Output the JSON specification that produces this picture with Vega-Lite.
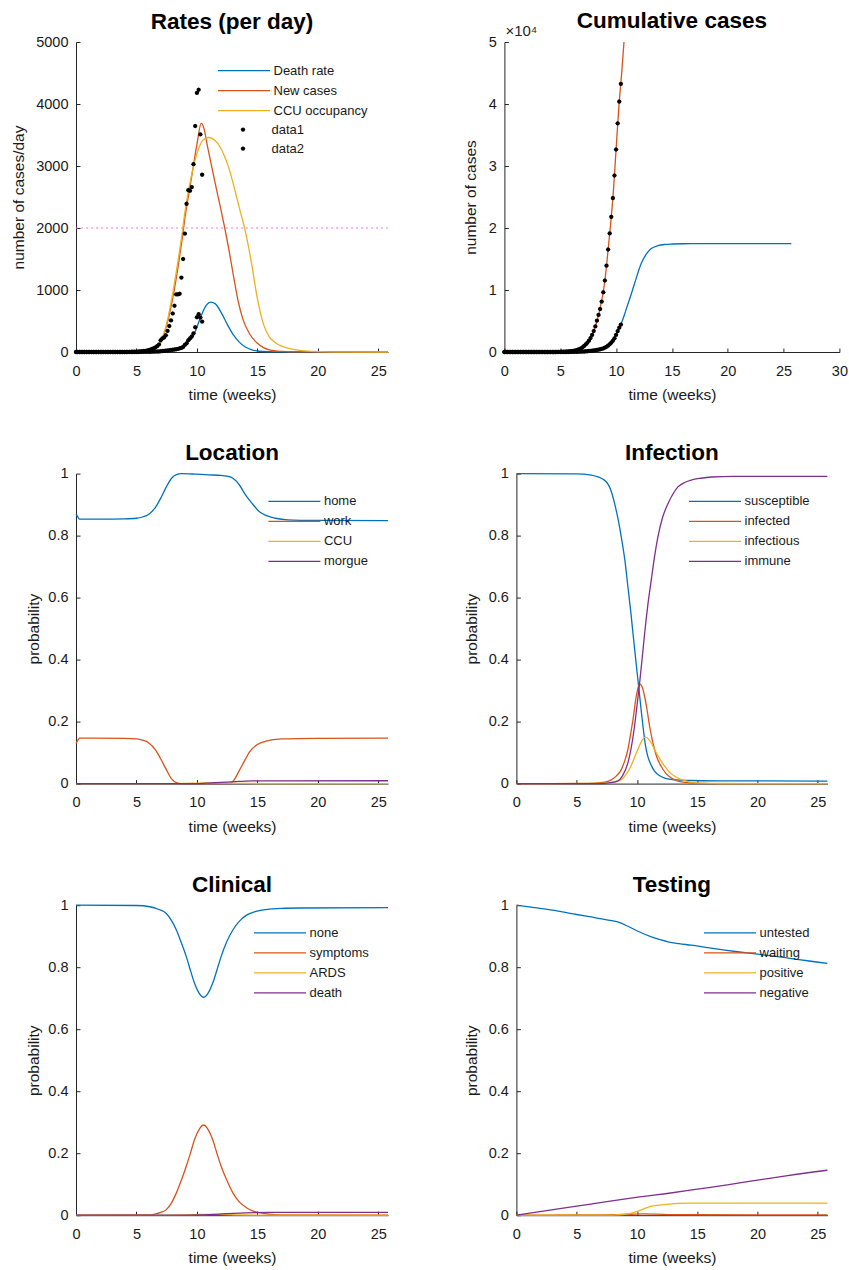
{
  "$schema": "https://vega.github.io/schema/vega-lite/v6.json",
  "padding": {"left": 11, "top": 9, "right": 5, "bottom": 5},
  "config": {
    "font": "Liberation Sans",
    "view": {"stroke": null},
    "line": {"interpolate": "monotone"},
    "axis": {"grid": false, "domainColor": "#262626", "domainWidth": 1, "tickColor": "#262626", "tickSize": -4, "tickWidth": 1,
      "labelFontSize": 14.5, "labelColor": "#1a1a1a", "titleFontSize": 15.5, "titleFontWeight": "normal", "titleColor": "#1a1a1a",
      "labelFlush": false, "labelOverlap": false},
    "axisX": {"labelPadding": 16, "titlePadding": 10},
    "axisY": {"labelPadding": 12, "titlePadding": 8},
    "title": {"fontSize": 22.5, "fontWeight": "bold", "color": "#000000", "frame": "group", "anchor": "middle", "offset": 0, "dy": 3},
    "legend": {"labelFontSize": 13, "labelColor": "#1a1a1a", "rowPadding": 2, "padding": 0}
  },
  "datasets": {
    "daily": [
      {"week":0,"data1":0,"data2":0,"cum1":0,"cum2":0},
      {"week":0.143,"data1":0,"data2":0,"cum1":0,"cum2":0},
      {"week":0.286,"data1":0,"data2":0,"cum1":0,"cum2":0},
      {"week":0.429,"data1":0,"data2":0,"cum1":0,"cum2":0},
      {"week":0.571,"data1":0,"data2":0,"cum1":0,"cum2":0},
      {"week":0.714,"data1":0,"data2":0,"cum1":0,"cum2":0},
      {"week":0.857,"data1":0,"data2":0,"cum1":0,"cum2":0},
      {"week":1,"data1":0,"data2":0,"cum1":0,"cum2":0},
      {"week":1.143,"data1":0,"data2":0,"cum1":0,"cum2":0},
      {"week":1.286,"data1":0,"data2":0,"cum1":0,"cum2":0},
      {"week":1.429,"data1":0,"data2":0,"cum1":0,"cum2":0},
      {"week":1.571,"data1":0,"data2":0,"cum1":0,"cum2":0},
      {"week":1.714,"data1":0,"data2":0,"cum1":0,"cum2":0},
      {"week":1.857,"data1":0,"data2":0,"cum1":0,"cum2":0},
      {"week":2,"data1":0,"data2":0,"cum1":0,"cum2":0},
      {"week":2.143,"data1":0,"data2":0,"cum1":0,"cum2":0},
      {"week":2.286,"data1":0,"data2":0,"cum1":0,"cum2":0},
      {"week":2.429,"data1":0,"data2":0,"cum1":0,"cum2":0},
      {"week":2.571,"data1":0,"data2":0,"cum1":0,"cum2":0},
      {"week":2.714,"data1":0,"data2":0,"cum1":0,"cum2":0},
      {"week":2.857,"data1":0,"data2":0,"cum1":0,"cum2":0},
      {"week":3,"data1":0,"data2":0,"cum1":0,"cum2":0},
      {"week":3.143,"data1":0,"data2":0,"cum1":0,"cum2":0},
      {"week":3.286,"data1":0,"data2":0,"cum1":0,"cum2":0},
      {"week":3.429,"data1":0,"data2":0,"cum1":0,"cum2":0},
      {"week":3.571,"data1":0,"data2":0,"cum1":0,"cum2":0},
      {"week":3.714,"data1":0,"data2":0,"cum1":0,"cum2":0},
      {"week":3.857,"data1":0,"data2":0,"cum1":0,"cum2":0},
      {"week":4,"data1":1,"data2":0,"cum1":1,"cum2":0},
      {"week":4.143,"data1":1,"data2":0,"cum1":2,"cum2":0},
      {"week":4.286,"data1":2,"data2":0,"cum1":4,"cum2":0},
      {"week":4.429,"data1":2,"data2":0,"cum1":6,"cum2":0},
      {"week":4.571,"data1":3,"data2":0,"cum1":9,"cum2":0},
      {"week":4.714,"data1":4,"data2":0,"cum1":13,"cum2":0},
      {"week":4.857,"data1":5,"data2":0,"cum1":18,"cum2":0},
      {"week":5,"data1":6,"data2":1,"cum1":24,"cum2":1},
      {"week":5.143,"data1":8,"data2":1,"cum1":32,"cum2":2},
      {"week":5.286,"data1":10,"data2":2,"cum1":42,"cum2":4},
      {"week":5.429,"data1":12,"data2":2,"cum1":54,"cum2":6},
      {"week":5.571,"data1":15,"data2":3,"cum1":69,"cum2":9},
      {"week":5.714,"data1":18,"data2":3,"cum1":87,"cum2":12},
      {"week":5.857,"data1":22,"data2":4,"cum1":109,"cum2":16},
      {"week":6,"data1":30,"data2":5,"cum1":139,"cum2":21},
      {"week":6.143,"data1":38,"data2":5,"cum1":177,"cum2":26},
      {"week":6.286,"data1":50,"data2":6,"cum1":227,"cum2":32},
      {"week":6.429,"data1":60,"data2":7,"cum1":287,"cum2":39},
      {"week":6.571,"data1":75,"data2":8,"cum1":362,"cum2":47},
      {"week":6.714,"data1":95,"data2":8,"cum1":457,"cum2":55},
      {"week":6.857,"data1":120,"data2":9,"cum1":577,"cum2":64},
      {"week":7,"data1":190,"data2":12,"cum1":767,"cum2":76},
      {"week":7.143,"data1":220,"data2":15,"cum1":987,"cum2":91},
      {"week":7.286,"data1":235,"data2":18,"cum1":1222,"cum2":109},
      {"week":7.429,"data1":270,"data2":22,"cum1":1492,"cum2":131},
      {"week":7.571,"data1":340,"data2":25,"cum1":1832,"cum2":156},
      {"week":7.714,"data1":420,"data2":28,"cum1":2252,"cum2":184},
      {"week":7.857,"data1":510,"data2":32,"cum1":2762,"cum2":216},
      {"week":8,"data1":620,"data2":36,"cum1":3382,"cum2":252},
      {"week":8.143,"data1":745,"data2":40,"cum1":4127,"cum2":292},
      {"week":8.286,"data1":930,"data2":45,"cum1":5057,"cum2":337},
      {"week":8.429,"data1":930,"data2":50,"cum1":5987,"cum2":387},
      {"week":8.571,"data1":940,"data2":58,"cum1":6927,"cum2":445},
      {"week":8.714,"data1":1200,"data2":66,"cum1":8127,"cum2":511},
      {"week":8.857,"data1":1500,"data2":80,"cum1":9627,"cum2":591},
      {"week":9,"data1":1910,"data2":115,"cum1":11537,"cum2":706},
      {"week":9.143,"data1":2390,"data2":140,"cum1":13927,"cum2":846},
      {"week":9.286,"data1":2610,"data2":190,"cum1":16537,"cum2":1036},
      {"week":9.429,"data1":2600,"data2":220,"cum1":19137,"cum2":1256},
      {"week":9.571,"data1":2660,"data2":250,"cum1":21797,"cum2":1506},
      {"week":9.714,"data1":3030,"data2":300,"cum1":24827,"cum2":1806},
      {"week":9.857,"data1":3645,"data2":400,"cum1":28472,"cum2":2206},
      {"week":10,"data1":4180,"data2":560,"cum1":32652,"cum2":2766},
      {"week":10.143,"data1":4230,"data2":610,"cum1":36882,"cum2":3376},
      {"week":10.286,"data1":3510,"data2":555,"cum1":40392,"cum2":3931},
      {"week":10.429,"data1":2860,"data2":490,"cum1":43252,"cum2":4421}
    ],
    "rates": [
      {"w":0,"s":"Death rate","v":0},{"w":5,"s":"Death rate","v":0},{"w":6,"s":"Death rate","v":1},{"w":6.5,"s":"Death rate","v":3},
      {"w":7,"s":"Death rate","v":8},{"w":7.5,"s":"Death rate","v":18},{"w":8,"s":"Death rate","v":38},{"w":8.5,"s":"Death rate","v":70},
      {"w":9,"s":"Death rate","v":120},{"w":9.5,"s":"Death rate","v":215},{"w":9.8,"s":"Death rate","v":300},{"w":10,"s":"Death rate","v":400},
      {"w":10.36,"s":"Death rate","v":590},{"w":10.78,"s":"Death rate","v":755},{"w":11.13,"s":"Death rate","v":806},{"w":11.5,"s":"Death rate","v":780},
      {"w":12,"s":"Death rate","v":640},{"w":12.5,"s":"Death rate","v":450},{"w":13,"s":"Death rate","v":280},{"w":13.5,"s":"Death rate","v":160},
      {"w":14,"s":"Death rate","v":80},{"w":14.5,"s":"Death rate","v":38},{"w":15,"s":"Death rate","v":16},{"w":16,"s":"Death rate","v":4},
      {"w":17,"s":"Death rate","v":1},{"w":25.8,"s":"Death rate","v":0},
      {"w":0,"s":"New cases","v":0},{"w":5,"s":"New cases","v":2},{"w":5.5,"s":"New cases","v":5},{"w":6,"s":"New cases","v":12},
      {"w":6.5,"s":"New cases","v":40},{"w":7,"s":"New cases","v":150},{"w":7.5,"s":"New cases","v":430},{"w":8,"s":"New cases","v":870},
      {"w":8.5,"s":"New cases","v":1450},{"w":8.76,"s":"New cases","v":1800},{"w":9,"s":"New cases","v":2150},{"w":9.5,"s":"New cases","v":2750},
      {"w":10,"s":"New cases","v":3350},{"w":10.36,"s":"New cases","v":3690},{"w":10.6,"s":"New cases","v":3590},{"w":10.86,"s":"New cases","v":3330},
      {"w":11.2,"s":"New cases","v":3010},{"w":11.6,"s":"New cases","v":2640},{"w":12,"s":"New cases","v":2280},{"w":12.3,"s":"New cases","v":2000},
      {"w":12.7,"s":"New cases","v":1590},{"w":13,"s":"New cases","v":1250},{"w":13.4,"s":"New cases","v":830},{"w":13.8,"s":"New cases","v":530},
      {"w":14.36,"s":"New cases","v":290},{"w":15,"s":"New cases","v":140},{"w":15.5,"s":"New cases","v":70},{"w":16,"s":"New cases","v":35},
      {"w":17,"s":"New cases","v":10},{"w":18,"s":"New cases","v":3},{"w":19,"s":"New cases","v":1},{"w":25.8,"s":"New cases","v":0},
      {"w":0,"s":"CCU occupancy","v":0},{"w":5,"s":"CCU occupancy","v":2},{"w":5.5,"s":"CCU occupancy","v":6},{"w":6,"s":"CCU occupancy","v":14},
      {"w":6.5,"s":"CCU occupancy","v":45},{"w":7,"s":"CCU occupancy","v":170},{"w":7.5,"s":"CCU occupancy","v":460},{"w":8,"s":"CCU occupancy","v":950},
      {"w":8.5,"s":"CCU occupancy","v":1550},{"w":8.8,"s":"CCU occupancy","v":1950},{"w":9,"s":"CCU occupancy","v":2250},{"w":9.5,"s":"CCU occupancy","v":2800},
      {"w":10,"s":"CCU occupancy","v":3200},{"w":10.5,"s":"CCU occupancy","v":3420},{"w":10.97,"s":"CCU occupancy","v":3460},{"w":11.5,"s":"CCU occupancy","v":3410},
      {"w":11.9,"s":"CCU occupancy","v":3310},{"w":12.3,"s":"CCU occupancy","v":3150},{"w":12.7,"s":"CCU occupancy","v":2930},{"w":13.1,"s":"CCU occupancy","v":2640},
      {"w":13.5,"s":"CCU occupancy","v":2330},{"w":14,"s":"CCU occupancy","v":1950},{"w":14.5,"s":"CCU occupancy","v":1450},{"w":15,"s":"CCU occupancy","v":860},
      {"w":15.5,"s":"CCU occupancy","v":450},{"w":16,"s":"CCU occupancy","v":240},{"w":16.5,"s":"CCU occupancy","v":150},{"w":17,"s":"CCU occupancy","v":95},
      {"w":17.7,"s":"CCU occupancy","v":54},{"w":18.5,"s":"CCU occupancy","v":25},{"w":19.5,"s":"CCU occupancy","v":10},{"w":21,"s":"CCU occupancy","v":3},
      {"w":25.8,"s":"CCU occupancy","v":0}
    ],
    "cum": [
      {"w":0,"s":"cases","v":0},{"w":4,"s":"cases","v":1},{"w":5,"s":"cases","v":24},{"w":5.5,"s":"cases","v":60},{"w":6,"s":"cases","v":139},
      {"w":6.5,"s":"cases","v":320},{"w":7,"s":"cases","v":767},{"w":7.5,"s":"cases","v":1650},{"w":8,"s":"cases","v":3382},{"w":8.5,"s":"cases","v":6450},
      {"w":9,"s":"cases","v":11537},{"w":9.25,"s":"cases","v":15800},{"w":9.5,"s":"cases","v":20400},{"w":9.75,"s":"cases","v":25700},{"w":10,"s":"cases","v":32652},
      {"w":10.25,"s":"cases","v":39500},{"w":10.5,"s":"cases","v":44950},{"w":10.71,"s":"cases","v":50000},
      {"w":0,"s":"deaths","v":0},{"w":5,"s":"deaths","v":1},{"w":6,"s":"deaths","v":21},{"w":7,"s":"deaths","v":76},{"w":7.5,"s":"deaths","v":131},
      {"w":8,"s":"deaths","v":252},{"w":8.5,"s":"deaths","v":420},{"w":9,"s":"deaths","v":706},{"w":9.5,"s":"deaths","v":1380},{"w":10,"s":"deaths","v":2766},
      {"w":10.43,"s":"deaths","v":4421},{"w":10.75,"s":"deaths","v":6000},{"w":11,"s":"deaths","v":7400},{"w":11.37,"s":"deaths","v":9400},
      {"w":11.75,"s":"deaths","v":11600},{"w":12.26,"s":"deaths","v":14300},{"w":12.75,"s":"deaths","v":15900},{"w":13.16,"s":"deaths","v":16700},
      {"w":13.75,"s":"deaths","v":17150},{"w":14.4,"s":"deaths","v":17350},{"w":15,"s":"deaths","v":17420},{"w":16,"s":"deaths","v":17460},
      {"w":18,"s":"deaths","v":17480},{"w":25.7,"s":"deaths","v":17480}
    ],
    "loc": [
      {"w":0,"s":"home","v":0.871},{"w":0.15,"s":"home","v":0.86},{"w":0.3,"s":"home","v":0.853},{"w":2,"s":"home","v":0.853},{"w":4,"s":"home","v":0.854},
      {"w":5,"s":"home","v":0.856},{"w":5.5,"s":"home","v":0.86},{"w":6,"s":"home","v":0.868},{"w":6.6,"s":"home","v":0.893},{"w":7,"s":"home","v":0.92},
      {"w":7.47,"s":"home","v":0.957},{"w":7.9,"s":"home","v":0.985},{"w":8.3,"s":"home","v":0.997},{"w":8.7,"s":"home","v":1},{"w":10,"s":"home","v":0.998},
      {"w":11,"s":"home","v":0.996},{"w":12,"s":"home","v":0.994},{"w":12.7,"s":"home","v":0.99},{"w":13,"s":"home","v":0.984},{"w":13.5,"s":"home","v":0.964},
      {"w":14,"s":"home","v":0.932},{"w":14.6,"s":"home","v":0.902},{"w":15.2,"s":"home","v":0.876},{"w":15.7,"s":"home","v":0.865},{"w":16.5,"s":"home","v":0.856},
      {"w":17.5,"s":"home","v":0.851},{"w":20,"s":"home","v":0.849},{"w":25.8,"s":"home","v":0.848},
      {"w":0,"s":"work","v":0.129},{"w":0.15,"s":"work","v":0.14},{"w":0.3,"s":"work","v":0.147},{"w":4,"s":"work","v":0.146},{"w":5,"s":"work","v":0.144},
      {"w":5.5,"s":"work","v":0.14},{"w":6,"s":"work","v":0.132},{"w":6.6,"s":"work","v":0.107},{"w":7,"s":"work","v":0.08},{"w":7.47,"s":"work","v":0.045},
      {"w":7.9,"s":"work","v":0.015},{"w":8.3,"s":"work","v":0.003},{"w":8.7,"s":"work","v":0},{"w":12.7,"s":"work","v":0},{"w":13,"s":"work","v":0.008},
      {"w":13.5,"s":"work","v":0.042},{"w":14,"s":"work","v":0.078},{"w":14.35,"s":"work","v":0.102},{"w":15,"s":"work","v":0.126},{"w":15.7,"s":"work","v":0.137},
      {"w":17,"s":"work","v":0.144},{"w":20,"s":"work","v":0.146},{"w":25.8,"s":"work","v":0.147},
      {"w":0,"s":"CCU","v":0},{"w":8,"s":"CCU","v":0},{"w":9,"s":"CCU","v":0.0005},{"w":10,"s":"CCU","v":0.0015},{"w":11,"s":"CCU","v":0.0025},
      {"w":12,"s":"CCU","v":0.002},{"w":13,"s":"CCU","v":0.0012},{"w":14,"s":"CCU","v":0.0005},{"w":16,"s":"CCU","v":0.0001},{"w":25.8,"s":"CCU","v":0},
      {"w":0,"s":"morgue","v":0},{"w":9.5,"s":"morgue","v":0},{"w":10.5,"s":"morgue","v":0.001},{"w":11.5,"s":"morgue","v":0.003},{"w":12.5,"s":"morgue","v":0.005},
      {"w":13.5,"s":"morgue","v":0.007},{"w":14.5,"s":"morgue","v":0.0085},{"w":16,"s":"morgue","v":0.009},{"w":25.8,"s":"morgue","v":0.0092}
    ],
    "inf": [
      {"w":0,"s":"susceptible","v":1},{"w":5,"s":"susceptible","v":0.999},{"w":6.2,"s":"susceptible","v":0.995},{"w":7.3,"s":"susceptible","v":0.979},
      {"w":7.8,"s":"susceptible","v":0.95},{"w":8.15,"s":"susceptible","v":0.903},{"w":8.45,"s":"susceptible","v":0.85},{"w":8.7,"s":"susceptible","v":0.796},
      {"w":9,"s":"susceptible","v":0.72},{"w":9.25,"s":"susceptible","v":0.635},{"w":9.5,"s":"susceptible","v":0.55},{"w":9.67,"s":"susceptible","v":0.485},
      {"w":9.9,"s":"susceptible","v":0.4},{"w":10.08,"s":"susceptible","v":0.335},{"w":10.3,"s":"susceptible","v":0.255},{"w":10.5,"s":"susceptible","v":0.185},
      {"w":10.7,"s":"susceptible","v":0.125},{"w":10.9,"s":"susceptible","v":0.088},{"w":11.2,"s":"susceptible","v":0.058},{"w":11.46,"s":"susceptible","v":0.04},
      {"w":12.3,"s":"susceptible","v":0.018},{"w":13.3,"s":"susceptible","v":0.012},{"w":14.5,"s":"susceptible","v":0.01},{"w":17,"s":"susceptible","v":0.009},
      {"w":25.8,"s":"susceptible","v":0.008},
      {"w":0,"s":"infected","v":0},{"w":6,"s":"infected","v":0.0005},{"w":7,"s":"infected","v":0.003},{"w":7.5,"s":"infected","v":0.006},
      {"w":7.87,"s":"infected","v":0.012},{"w":8.3,"s":"infected","v":0.025},{"w":8.7,"s":"infected","v":0.045},{"w":9,"s":"infected","v":0.075},
      {"w":9.25,"s":"infected","v":0.11},{"w":9.5,"s":"infected","v":0.165},{"w":9.67,"s":"infected","v":0.206},{"w":9.94,"s":"infected","v":0.281},
      {"w":10.1,"s":"infected","v":0.31},{"w":10.22,"s":"infected","v":0.322},{"w":10.4,"s":"infected","v":0.315},{"w":10.64,"s":"infected","v":0.281},
      {"w":10.85,"s":"infected","v":0.235},{"w":11.05,"s":"infected","v":0.185},{"w":11.25,"s":"infected","v":0.145},{"w":11.46,"s":"infected","v":0.11},
      {"w":11.7,"s":"infected","v":0.08},{"w":12,"s":"infected","v":0.056},{"w":12.4,"s":"infected","v":0.033},{"w":12.85,"s":"infected","v":0.018},
      {"w":13.4,"s":"infected","v":0.008},{"w":13.95,"s":"infected","v":0.004},{"w":15,"s":"infected","v":0.001},{"w":17,"s":"infected","v":0},
      {"w":25.8,"s":"infected","v":0},
      {"w":0,"s":"infectious","v":0},{"w":7,"s":"infectious","v":0.001},{"w":8,"s":"infectious","v":0.005},{"w":8.7,"s":"infectious","v":0.013},
      {"w":9.1,"s":"infectious","v":0.03},{"w":9.5,"s":"infectious","v":0.056},{"w":9.8,"s":"infectious","v":0.085},{"w":10.08,"s":"infectious","v":0.11},
      {"w":10.4,"s":"infectious","v":0.138},{"w":10.72,"s":"infectious","v":0.15},{"w":11,"s":"infectious","v":0.142},{"w":11.25,"s":"infectious","v":0.127},
      {"w":11.46,"s":"infectious","v":0.11},{"w":11.9,"s":"infectious","v":0.08},{"w":12.3,"s":"infectious","v":0.056},{"w":12.8,"s":"infectious","v":0.033},
      {"w":13.4,"s":"infectious","v":0.018},{"w":14,"s":"infectious","v":0.009},{"w":14.5,"s":"infectious","v":0.004},{"w":15.5,"s":"infectious","v":0.0015},
      {"w":17,"s":"infectious","v":0.0003},{"w":25.8,"s":"infectious","v":0},
      {"w":0,"s":"immune","v":0},{"w":7,"s":"immune","v":0},{"w":7.8,"s":"immune","v":0.003},{"w":8.4,"s":"immune","v":0.008},{"w":8.8,"s":"immune","v":0.025},
      {"w":9.25,"s":"immune","v":0.067},{"w":9.5,"s":"immune","v":0.11},{"w":9.8,"s":"immune","v":0.185},{"w":10,"s":"immune","v":0.25},
      {"w":10.22,"s":"immune","v":0.324},{"w":10.45,"s":"immune","v":0.41},{"w":10.64,"s":"immune","v":0.485},{"w":10.9,"s":"immune","v":0.575},
      {"w":11.19,"s":"immune","v":0.657},{"w":11.45,"s":"immune","v":0.73},{"w":11.74,"s":"immune","v":0.796},{"w":12.1,"s":"immune","v":0.855},
      {"w":12.57,"s":"immune","v":0.903},{"w":13,"s":"immune","v":0.935},{"w":13.4,"s":"immune","v":0.957},{"w":14,"s":"immune","v":0.972},
      {"w":14.5,"s":"immune","v":0.979},{"w":15.3,"s":"immune","v":0.985},{"w":16.2,"s":"immune","v":0.989},{"w":18,"s":"immune","v":0.991},
      {"w":25.8,"s":"immune","v":0.991}
    ],
    "cli": [
      {"w":0,"s":"none","v":1},{"w":5,"s":"none","v":0.999},{"w":6.1,"s":"none","v":0.995},{"w":6.8,"s":"none","v":0.987},{"w":7.47,"s":"none","v":0.973},
      {"w":7.9,"s":"none","v":0.95},{"w":8.3,"s":"none","v":0.92},{"w":8.7,"s":"none","v":0.88},{"w":9.12,"s":"none","v":0.834},{"w":9.5,"s":"none","v":0.785},
      {"w":9.8,"s":"none","v":0.748},{"w":10.2,"s":"none","v":0.715},{"w":10.55,"s":"none","v":0.703},{"w":10.9,"s":"none","v":0.715},{"w":11.3,"s":"none","v":0.748},
      {"w":11.65,"s":"none","v":0.79},{"w":12,"s":"none","v":0.834},{"w":12.5,"s":"none","v":0.885},{"w":12.97,"s":"none","v":0.92},{"w":13.5,"s":"none","v":0.948},
      {"w":14.1,"s":"none","v":0.968},{"w":14.8,"s":"none","v":0.979},{"w":15.7,"s":"none","v":0.986},{"w":17,"s":"none","v":0.99},{"w":18.5,"s":"none","v":0.991},
      {"w":25.8,"s":"none","v":0.992},
      {"w":0,"s":"symptoms","v":0},{"w":6,"s":"symptoms","v":0.001},{"w":6.6,"s":"symptoms","v":0.004},{"w":7,"s":"symptoms","v":0.009},{"w":7.47,"s":"symptoms","v":0.018},
      {"w":7.9,"s":"symptoms","v":0.04},{"w":8.3,"s":"symptoms","v":0.072},{"w":8.7,"s":"symptoms","v":0.112},{"w":9.12,"s":"symptoms","v":0.158},{"w":9.5,"s":"symptoms","v":0.205},
      {"w":9.8,"s":"symptoms","v":0.244},{"w":10.2,"s":"symptoms","v":0.278},{"w":10.55,"s":"symptoms","v":0.291},{"w":10.9,"s":"symptoms","v":0.278},{"w":11.3,"s":"symptoms","v":0.244},
      {"w":11.65,"s":"symptoms","v":0.2},{"w":12,"s":"symptoms","v":0.158},{"w":12.5,"s":"symptoms","v":0.11},{"w":12.97,"s":"symptoms","v":0.072},{"w":13.5,"s":"symptoms","v":0.043},
      {"w":14.1,"s":"symptoms","v":0.024},{"w":14.6,"s":"symptoms","v":0.014},{"w":15.2,"s":"symptoms","v":0.008},{"w":16,"s":"symptoms","v":0.003},{"w":17,"s":"symptoms","v":0.001},
      {"w":25.8,"s":"symptoms","v":0},
      {"w":0,"s":"ARDS","v":0},{"w":8,"s":"ARDS","v":0.0003},{"w":9,"s":"ARDS","v":0.001},{"w":10,"s":"ARDS","v":0.002},{"w":11,"s":"ARDS","v":0.0028},
      {"w":12,"s":"ARDS","v":0.0025},{"w":13,"s":"ARDS","v":0.0015},{"w":14,"s":"ARDS","v":0.0007},{"w":16,"s":"ARDS","v":0.0002},{"w":25.8,"s":"ARDS","v":0},
      {"w":0,"s":"death","v":0},{"w":9,"s":"death","v":0},{"w":10,"s":"death","v":0.0006},{"w":11,"s":"death","v":0.002},{"w":12,"s":"death","v":0.004},
      {"w":13,"s":"death","v":0.0062},{"w":14,"s":"death","v":0.0078},{"w":15,"s":"death","v":0.0086},{"w":16.5,"s":"death","v":0.009},{"w":25.8,"s":"death","v":0.0092}
    ],
    "tst": [
      {"w":0,"s":"untested","v":1},{"w":1.5,"s":"untested","v":0.992},{"w":3.45,"s":"untested","v":0.981},{"w":5,"s":"untested","v":0.97},{"w":6.2,"s":"untested","v":0.962},
      {"w":7.5,"s":"untested","v":0.953},{"w":8.4,"s":"untested","v":0.946},{"w":9.25,"s":"untested","v":0.932},{"w":10.08,"s":"untested","v":0.916},{"w":11.2,"s":"untested","v":0.898},
      {"w":12,"s":"untested","v":0.888},{"w":12.57,"s":"untested","v":0.882},{"w":13.5,"s":"untested","v":0.876},{"w":14.5,"s":"untested","v":0.871},{"w":16,"s":"untested","v":0.862},
      {"w":17.3,"s":"untested","v":0.855},{"w":18.5,"s":"untested","v":0.849},{"w":20,"s":"untested","v":0.842},{"w":21.5,"s":"untested","v":0.835},{"w":22.8,"s":"untested","v":0.828},
      {"w":24.3,"s":"untested","v":0.82},{"w":25.8,"s":"untested","v":0.812},
      {"w":0,"s":"waiting","v":0},{"w":5,"s":"waiting","v":0.001},{"w":8,"s":"waiting","v":0.0015},{"w":9.5,"s":"waiting","v":0.003},{"w":10.5,"s":"waiting","v":0.004},
      {"w":11.5,"s":"waiting","v":0.0035},{"w":13,"s":"waiting","v":0.002},{"w":15,"s":"waiting","v":0.0015},{"w":25.8,"s":"waiting","v":0.0013},
      {"w":0,"s":"positive","v":0},{"w":8,"s":"positive","v":0.0005},{"w":9,"s":"positive","v":0.003},{"w":9.5,"s":"positive","v":0.006},{"w":10.08,"s":"positive","v":0.013},
      {"w":10.6,"s":"positive","v":0.021},{"w":11.2,"s":"positive","v":0.029},{"w":11.7,"s":"positive","v":0.032},{"w":12.3,"s":"positive","v":0.034},{"w":13.4,"s":"positive","v":0.038},
      {"w":14.5,"s":"positive","v":0.039},{"w":17,"s":"positive","v":0.039},{"w":25.8,"s":"positive","v":0.039},
      {"w":0,"s":"negative","v":0},{"w":2.5,"s":"negative","v":0.0145},{"w":5,"s":"negative","v":0.029},{"w":7.5,"s":"negative","v":0.044},{"w":10.08,"s":"negative","v":0.058},
      {"w":12.5,"s":"negative","v":0.07},{"w":15,"s":"negative","v":0.084},{"w":17.5,"s":"negative","v":0.098},{"w":20,"s":"negative","v":0.113},{"w":22.5,"s":"negative","v":0.128},
      {"w":25.8,"s":"negative","v":0.145}
    ]
  },
  "concat": [
    {
      "width": 312, "height": 310,
      "title": "Rates (per day)",
      "layer": [
        {
          "data": {"values": [{}]},
          "mark": {"type": "rule", "color": "#f07af0", "strokeDash": [2, 3], "strokeWidth": 1.2},
          "encoding": {"y": {"datum": 2000, "type": "quantitative"}}
        },
        {
          "data": {"name": "rates"},
          "mark": {"type": "line", "strokeWidth": 1.3},
          "encoding": {
            "x": {"field": "w", "type": "quantitative", "scale": {"domain": [0, 25.8], "nice": false, "zero": false}, "axis": {"title": "time (weeks)", "values": [0, 5, 10, 15, 20, 25]}},
            "y": {"field": "v", "type": "quantitative", "scale": {"domain": [0, 5000], "nice": false}, "axis": {"title": "number of cases/day", "values": [0, 1000, 2000, 3000, 4000, 5000], "format": "d", "titlePadding": 9}},
            "color": {"field": "s", "type": "nominal",
              "scale": {"domain": ["Death rate", "New cases", "CCU occupancy"], "range": ["#0072BD", "#D95319", "#EDB120"]},
              "legend": {"title": null, "orient": "none", "legendX": 157, "legendY": 17.6, "symbolType": "M-2.6,0H2.6", "symbolSize": 400, "symbolStrokeWidth": 1.3, "labelOffset": 18.5}
            }
          }
        },
        {
          "data": {"name": "daily"},
          "transform": [{"fold": ["data1", "data2"], "as": ["s", "v"]}],
          "mark": {"type": "point", "filled": true, "size": 400, "opacity": 1, "color": "#000000"},
          "encoding": {
            "x": {"field": "week", "type": "quantitative"},
            "y": {"field": "v", "type": "quantitative"},
            "shape": {"field": "s", "type": "nominal",
              "scale": {"domain": ["data1", "data2"], "range": ["M-0.22,0L-0.156,-0.156L0,-0.22L0.156,-0.156L0.22,0L0.156,0.156L0,0.22L-0.156,0.156Z", "M-0.22,0L-0.156,-0.156L0,-0.22L0.156,-0.156L0.22,0L0.156,0.156L0,0.22L-0.156,0.156Z"]},
              "legend": {"title": null, "orient": "none", "legendX": 157, "legendY": 77.6, "symbolSize": 400, "symbolFillColor": "#000000", "symbolStrokeColor": "#000000", "symbolStrokeWidth": 0, "labelOffset": 18.5}
            }
          }
        }
      ]
    },
    {
      "width": 323, "height": 310,
      "title": {"text": "Cumulative cases", "dx": -6, "dy": 12},
      "layer": [
        {
          "data": {"name": "cum"},
          "mark": {"type": "line", "strokeWidth": 1.3},
          "encoding": {
            "x": {"field": "w", "type": "quantitative", "scale": {"domain": [0, 30], "nice": false, "zero": false, "range": [-12, 323]}, "axis": {"title": "time (weeks)", "values": [0, 5, 10, 15, 20, 25, 30]}},
            "y": {"field": "v", "type": "quantitative", "scale": {"domain": [0, 50000], "nice": false}, "axis": {"title": "number of cases", "values": [0, 10000, 20000, 30000, 40000, 50000], "labelExpr": "datum.value / 10000", "titlePadding": 10, "offset": 12}},
            "color": {"field": "s", "type": "nominal", "scale": {"domain": ["deaths", "cases"], "range": ["#0072BD", "#D95319"]}, "legend": null}
          }
        },
        {
          "data": {"name": "daily"},
          "transform": [{"fold": ["cum1", "cum2"], "as": ["s", "v"]}],
          "mark": {"type": "point", "filled": true, "size": 400, "opacity": 1, "color": "#000000", "shape": "M-0.22,0L-0.156,-0.156L0,-0.22L0.156,-0.156L0.22,0L0.156,0.156L0,0.22L-0.156,0.156Z"},
          "encoding": {
            "x": {"field": "week", "type": "quantitative"},
            "y": {"field": "v", "type": "quantitative"},
            "detail": {"field": "s", "type": "nominal"}
          }
        },
        {
          "data": {"values": [{}]},
          "mark": {"type": "text", "text": "×10⁴", "align": "left", "baseline": "alphabetic", "dx": 1, "dy": -6, "fontSize": 15, "color": "#262626"},
          "encoding": {"x": {"datum": 0, "type": "quantitative"}, "y": {"datum": 50000, "type": "quantitative"}}
        }
      ]
    },
    {
      "width": 312, "height": 310,
      "title": "Location",
      "data": {"name": "loc"},
      "mark": {"type": "line", "strokeWidth": 1.3},
      "encoding": {
        "x": {"field": "w", "type": "quantitative", "scale": {"domain": [0, 25.8], "nice": false, "zero": false}, "axis": {"title": "time (weeks)", "values": [0, 5, 10, 15, 20, 25]}},
        "y": {"field": "v", "type": "quantitative", "scale": {"domain": [0, 1], "nice": false}, "axis": {"title": "probability", "values": [0, 0.2, 0.4, 0.6, 0.8, 1], "format": "~g", "titlePadding": 6.5}},
        "color": {"field": "s", "type": "nominal", "scale": {"domain": ["home", "work", "CCU", "morgue"], "range": ["#0072BD", "#D95319", "#EDB120", "#7E2F8E"]},
          "legend": {"title": null, "orient": "none", "legendX": 207.4, "legendY": 16.7, "symbolType": "M-2.6,0H2.6", "symbolSize": 400, "symbolStrokeWidth": 1.3, "labelOffset": 18.5}}
      }
    },
    {
      "width": 311, "height": 310,
      "title": "Infection",
      "data": {"name": "inf"},
      "mark": {"type": "line", "strokeWidth": 1.3},
      "encoding": {
        "x": {"field": "w", "type": "quantitative", "scale": {"domain": [0, 25.8], "nice": false, "zero": false}, "axis": {"title": "time (weeks)", "values": [0, 5, 10, 15, 20, 25]}},
        "y": {"field": "v", "type": "quantitative", "scale": {"domain": [0, 1], "nice": false}, "axis": {"title": "probability", "values": [0, 0.2, 0.4, 0.6, 0.8, 1], "format": "~g", "titlePadding": 8.3}},
        "color": {"field": "s", "type": "nominal", "scale": {"domain": ["susceptible", "infected", "infectious", "immune"], "range": ["#0072BD", "#D95319", "#EDB120", "#7E2F8E"]},
          "legend": {"title": null, "orient": "none", "legendX": 187.6, "legendY": 16.7, "symbolType": "M-2.6,0H2.6", "symbolSize": 400, "symbolStrokeWidth": 1.3, "labelOffset": 18.5}}
      }
    },
    {
      "width": 312, "height": 310,
      "title": "Clinical",
      "data": {"name": "cli"},
      "mark": {"type": "line", "strokeWidth": 1.3},
      "encoding": {
        "x": {"field": "w", "type": "quantitative", "scale": {"domain": [0, 25.8], "nice": false, "zero": false}, "axis": {"title": "time (weeks)", "values": [0, 5, 10, 15, 20, 25]}},
        "y": {"field": "v", "type": "quantitative", "scale": {"domain": [0, 1], "nice": false}, "axis": {"title": "probability", "values": [0, 0.2, 0.4, 0.6, 0.8, 1], "format": "~g", "titlePadding": 6.5}},
        "color": {"field": "s", "type": "nominal", "scale": {"domain": ["none", "symptoms", "ARDS", "death"], "range": ["#0072BD", "#D95319", "#EDB120", "#7E2F8E"]},
          "legend": {"title": null, "orient": "none", "legendX": 193, "legendY": 16.7, "symbolType": "M-2.6,0H2.6", "symbolSize": 400, "symbolStrokeWidth": 1.3, "labelOffset": 18.5}}
      }
    },
    {
      "width": 311, "height": 310,
      "title": "Testing",
      "data": {"name": "tst"},
      "mark": {"type": "line", "strokeWidth": 1.3},
      "encoding": {
        "x": {"field": "w", "type": "quantitative", "scale": {"domain": [0, 25.8], "nice": false, "zero": false}, "axis": {"title": "time (weeks)", "values": [0, 5, 10, 15, 20, 25]}},
        "y": {"field": "v", "type": "quantitative", "scale": {"domain": [0, 1], "nice": false}, "axis": {"title": "probability", "values": [0, 0.2, 0.4, 0.6, 0.8, 1], "format": "~g", "titlePadding": 8.3}},
        "color": {"field": "s", "type": "nominal", "scale": {"domain": ["untested", "waiting", "positive", "negative"], "range": ["#0072BD", "#D95319", "#EDB120", "#7E2F8E"]},
          "legend": {"title": null, "orient": "none", "legendX": 202.6, "legendY": 16.7, "symbolType": "M-2.6,0H2.6", "symbolSize": 400, "symbolStrokeWidth": 1.3, "labelOffset": 18.5}}
      }
    }
  ],
  "columns": 2,
  "spacing": {"row": 121.6, "column": 128.4},
  "bounds": "flush",
  "resolve": {"scale": {"color": "independent", "shape": "independent"}, "legend": {"color": "independent", "shape": "independent"}}
}
